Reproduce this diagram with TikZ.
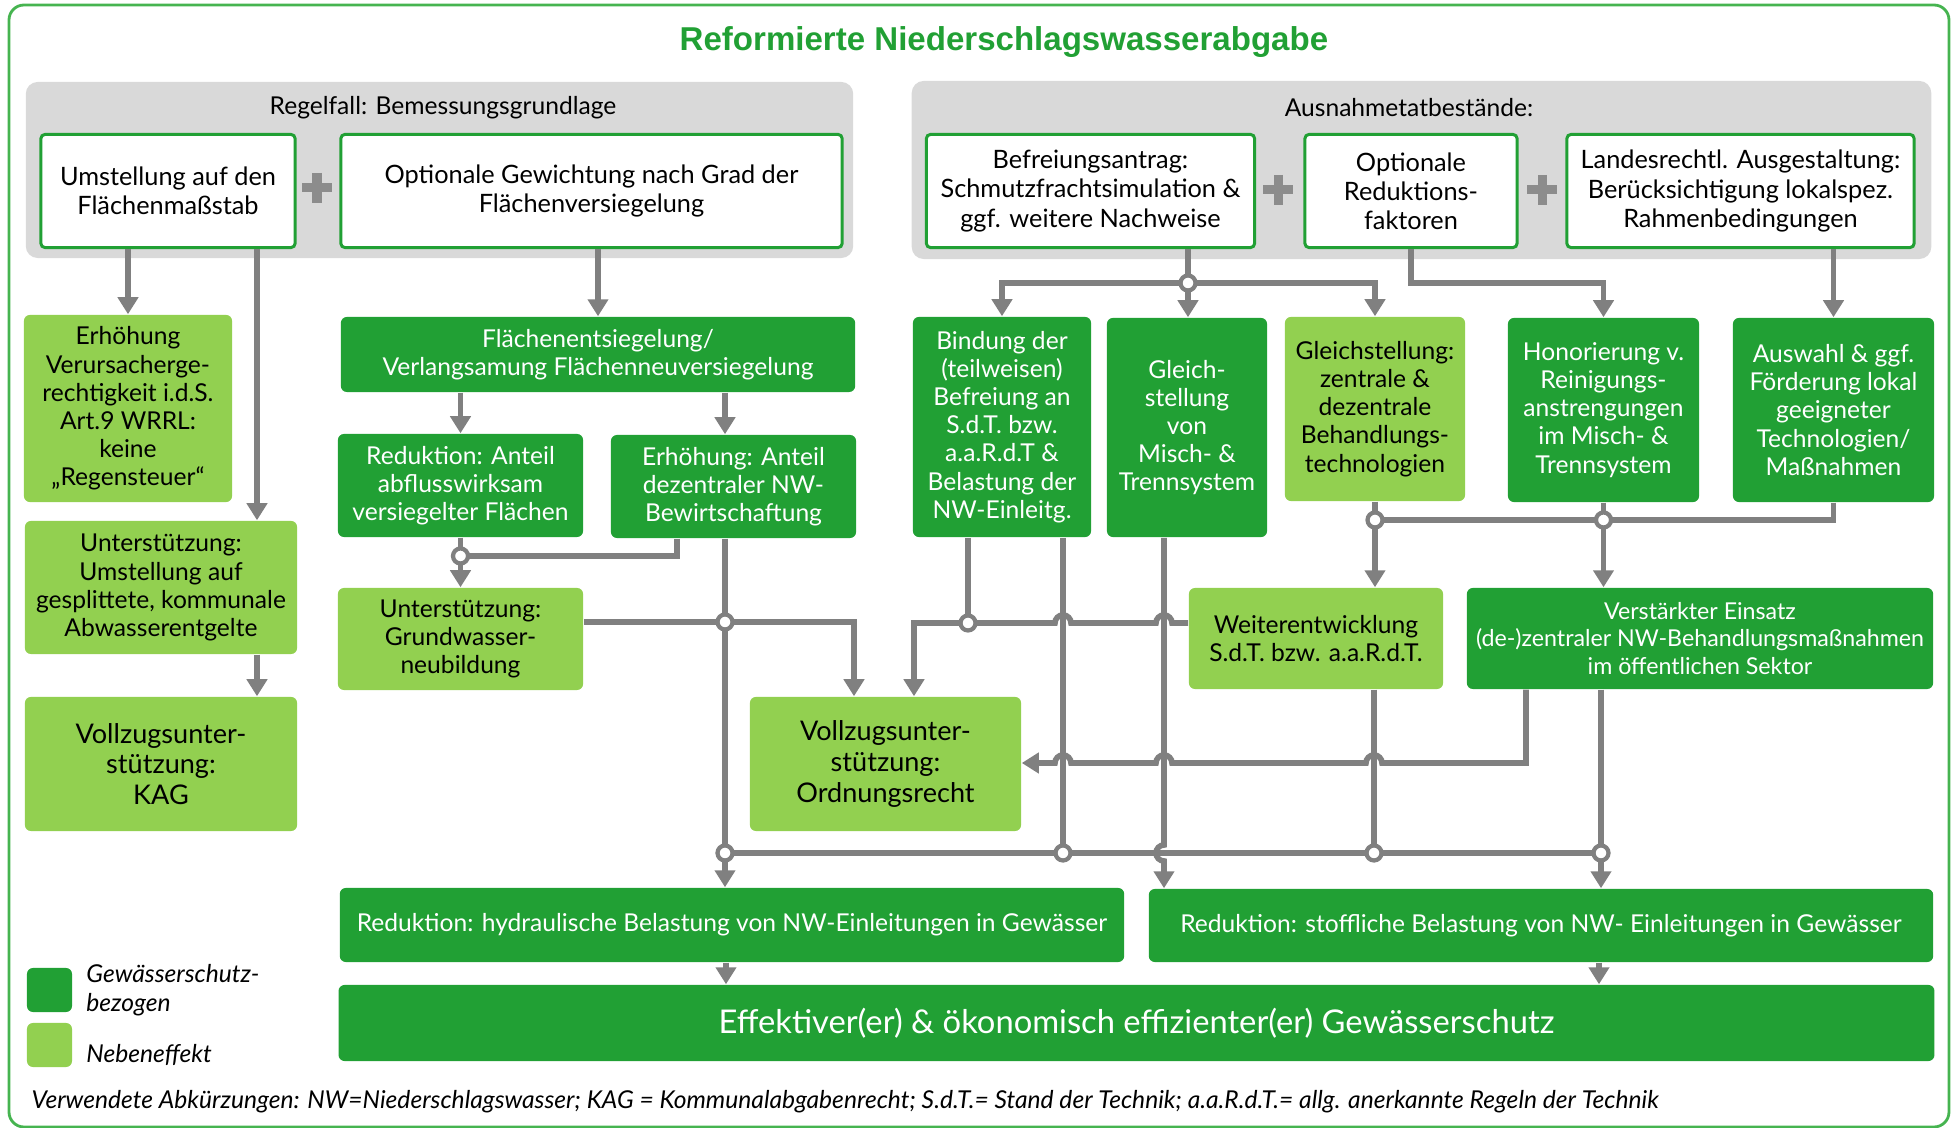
\documentclass[tikz,border=0pt]{standalone}
\usepackage{fontspec}
\setmainfont{Lato}
\newfontfamily\titlefont{Liberation Sans}
\usetikzlibrary{positioning,arrows.meta}

\definecolor{nwgreen}{RGB}{33,160,52}
\definecolor{nwlight}{RGB}{146,208,80}
\definecolor{panelgray}{RGB}{217,217,217}
\definecolor{linegray}{RGB}{128,128,128}
\definecolor{plusgray}{RGB}{140,140,140}
\definecolor{framegreen}{RGB}{70,180,80}

\begin{document}
\begin{tikzpicture}[x=0.01cm, y=-0.01cm]
   \tikzset{sz/.style 2 args = {minimum width=#1, minimum height=#2}, }
   \tikzset{panel/.style = {fill=panelgray, rounded corners=0.12cm, inner sep=0pt}, }
   \tikzset{inbox/.style = {draw=nwgreen, line width=0.03cm, fill=white, rounded corners=0.04cm, align=center, inner sep=0pt, font=\fontsize{7.2}{8.3}\selectfont}, }
   \tikzset{dark/.style = {fill=nwgreen, text=white, rounded corners=0.06cm, align=center, inner sep=0pt, font=\fontsize{7}{8}\selectfont}, }
   \tikzset{light/.style = {fill=nwlight, text=black, rounded corners=0.06cm, align=center, inner sep=0pt, font=\fontsize{7}{8}\selectfont}, }
   \tikzset{big/.style = {font=\fontsize{7.7}{8.7}\selectfont}, }
   \tikzset{line/.style = {draw=linegray, line width=1.6pt}, }
   \tikzset{arrow/.style = {line, -{Triangle[length=0.17cm, width=0.2cm]}}, }
   \tikzset{jdot/.style = {circle, draw=linegray, fill=white, line width=1.2pt, minimum size=0.15cm, inner sep=0pt}, }
   \tikzset{plus/.style = {draw=plusgray, line width=0.09cm}, }
   \tikzset{legtext/.style = {inner sep=0pt, align=left, font=\fontsize{7}{8.2}\selectfont\itshape}, }

   \useasboundingbox (0,0) rectangle (1953,1128);
   \draw[framegreen, line width=0.8pt, rounded corners=0.15cm] (9,5) rectangle (1949,1127);
   \node[text=nwgreen, font=\titlefont\bfseries\fontsize{9.4}{11}\selectfont] (title) at (1004,42) {Reformierte Niederschlagswasserabgabe};

   % Bemessungsgrundlage und Ausnahmen
   \node[panel, sz={8.27cm}{1.76cm}] (regel) at (439.5,170) {};
   \node[panel, sz={10.19cm}{1.78cm}] (ausnahme) at (1421.5,170) {};
   \node[inner sep=0pt, font=\fontsize{7}{8}\selectfont] (regeltxt) at (443,108) {Regelfall: Bemessungsgrundlage};
   \node[inner sep=0pt, font=\fontsize{7}{8}\selectfont] (ausntxt) at (1409,108) {Ausnahmetatbestände:};
   \node[inbox, sz={2.54cm}{1.13cm}] (b1) at (168,191) {Umstellung auf den\\Flächenmaßstab};
   \node[inbox, sz={5.01cm}{1.13cm}] (b2) at (591.5,191) {Optionale Gewichtung nach Grad der\\Flächenversiegelung};
   \node[inbox, sz={3.28cm}{1.13cm}] (b3) at (1090.5,191) {Befreiungsantrag:\\Schmutzfrachtsimulation \&\\ggf. weitere Nachweise};
   \node[inbox, sz={2.12cm}{1.13cm}] (b4) at (1411,191) {Optionale\\Reduktions-\\faktoren};
   \node[inbox, sz={3.47cm}{1.13cm}] (b5) at (1740.5,191) {Landesrechtl. Ausgestaltung:\\Berücksichtigung lokalspez.\\Rahmenbedingungen};
   \foreach \px/\py in {317/188, 1278/190, 1542/190}
     \draw[plus] (\px-15,\py) -- (\px+15,\py) (\px,\py-15) -- (\px,\py+15);

   % linke Seite
   \node[light, sz={2.08cm}{1.87cm}] (c1) at (128,408.5) {Erhöhung\\Verursacherge-\\rechtigkeit i.d.S.\\Art.9 WRRL:\\keine\\„Regensteuer“};
   \node[dark, sz={5.14cm}{0.75cm}] (c2) at (598,354.5) {Flächenentsiegelung/\\Verlangsamung Flächenneuversiegelung};
   \node[dark, sz={2.45cm}{1.03cm}] (c3) at (460.5,485.5) {Reduktion: Anteil\\abflusswirksam\\versiegelter Flächen};
   \node[dark, sz={2.45cm}{1.03cm}] (c4) at (733.5,486.5) {Erhöhung: Anteil\\dezentraler NW-\\Bewirtschaftung};
   \node[light, sz={2.72cm}{1.33cm}] (c5) at (161,587.5) {Unterstützung:\\Umstellung auf\\gesplittete, kommunale\\Abwasserentgelte};
   \node[light, big, sz={2.72cm}{1.34cm}] (c6) at (161,764) {Vollzugsunter-\\stützung:\\KAG};
   \node[light, sz={2.45cm}{1.02cm}] (c7) at (460.5,639) {Unterstützung:\\Grundwasser-\\neubildung};
   \node[light, big, sz={2.71cm}{1.34cm}] (e1) at (885.5,764) {Vollzugsunter-\\stützung:\\Ordnungsrecht};

   % rechte Seite
   \node[dark, sz={1.78cm}{2.2cm}] (d1) at (1002,427) {Bindung der\\(teilweisen)\\Befreiung an\\S.d.T. bzw.\\a.a.R.d.T \&\\Belastung der\\NW-Einleitg.};
   \node[dark, sz={1.6cm}{2.19cm}] (d2) at (1187,427.5) {Gleich-\\stellung\\von\\Misch- \&\\Trennsystem};
   \node[light, sz={1.8cm}{1.84cm}] (d3) at (1375,409) {Gleichstellung:\\zentrale \&\\dezentrale\\Behandlungs-\\technologien};
   \node[dark, sz={1.91cm}{1.84cm}] (d4) at (1603.5,410) {Honorierung v.\\Reinigungs-\\anstrengungen\\im Misch- \&\\Trennsystem};
   \node[dark, sz={2.01cm}{1.84cm}] (d5) at (1833.5,410) {Auswahl \& ggf.\\Förderung lokal\\geeigneter\\Technologien/\\Maßnahmen};
   \node[light, sz={2.54cm}{1.01cm}] (d6) at (1316,638.5) {Weiterentwicklung\\S.d.T. bzw. a.a.R.d.T.};
   \node[dark, sz={4.66cm}{1.01cm}, font=\fontsize{6.6}{7.9}\selectfont] (d7) at (1700,638.5) {Verstärkter Einsatz\\(de-)zentraler NW-Behandlungsmaßnahmen\\im öffentlichen Sektor};

   % Wirkungen
   \node[dark, sz={7.84cm}{0.74cm}, font=\fontsize{7}{8}\selectfont] (f1) at (732,925) {Reduktion: hydraulische Belastung von NW-Einleitungen in Gewässer};
   \node[dark, sz={7.84cm}{0.73cm}, font=\fontsize{7}{8}\selectfont] (f2) at (1541,925.5) {Reduktion: stoffliche Belastung von NW- Einleitungen in Gewässer};
   \node[dark, sz={15.95cm}{0.76cm}, font=\fontsize{9.3}{10.5}\selectfont] (g) at (1136.5,1023) {Effektiver(er) \& ökonomisch effizienter(er) Gewässerschutz};

   % Legende
   \node[dark, sz={0.45cm}{0.44cm}] (legdark) at (49.5,990) {};
   \node[light, sz={0.45cm}{0.44cm}] (leglight) at (49.5,1045) {};
   \node[legtext, right=0.13cm of legdark] (legdarktxt) {Gewässerschutz-\\bezogen};
   \node[legtext, right=0.13cm of leglight, yshift=-0.1cm] (leglighttxt) {Nebeneffekt};
   \node[anchor=west, inner sep=0pt, font=\fontsize{7}{8}\selectfont\itshape] (abk) at (31,1102) {Verwendete Abkürzungen: NW=Niederschlagswasser; KAG = Kommunalabgabenrecht; S.d.T.= Stand der Technik; a.a.R.d.T.= allg. anerkannte Regeln der Technik};

   \coordinate (ja) at (460.5,556);
   \coordinate (jc) at (725,622);
   \coordinate (jd) at (725,853);
   \coordinate (je) at (968,623);
   \coordinate (jf) at (1063,853);
   \coordinate (jg) at (1601,853);
   \coordinate (jh) at (1374,853);
   \coordinate (ji) at (1188,283);
   \coordinate (jj) at (1375,520);
   \coordinate (jk) at (1603.5,520);

   % Regelfall
   \draw[arrow] (128,0 |- b1.south) -- (c1.north);
   \draw[arrow] (257,0 |- b1.south) -- (257,0 |- c5.north);
   \draw[arrow] (257,0 |- c5.south) -- (257,0 |- c6.north);
   \draw[arrow] (b2.south -| c2.north) -- (c2.north);
   \draw[arrow] (c2.south -| c3.north) -- (c3.north);
   \draw[arrow] (725,0 |- c2.south) -- (725,0 |- c4.north);
   \draw[arrow] (c3.south) -- (c7.north);
   \draw[line] (677,0 |- c4.south) |- (ja);
   \draw[line] (jc |- c4.south) -- (jd);
   \draw[arrow] (jd) -- (jd |- f1.north);
   \draw[arrow] (c7.east |- jc) -- (854,622) -- (854,0 |- e1.north);

   % Ausnahmen
   \draw[line] (ji |- b3.south) -- (ji);
   \draw[arrow] (ji) -| (d1.north);
   \draw[arrow] (ji) -- (ji |- d2.north);
   \draw[arrow] (ji) -| (d3.north);
   \draw[arrow] (b4.south) -- (b4.south |- ji) -| (d4.north);
   \draw[arrow] (b5.south -| d5.north) -- (d5.north);
   \draw[line] (d3.south) -- (jj);
   \draw[arrow] (jj) -- (jj |- d6.north);
   \draw[line] (d4.south) -- (jk);
   \draw[arrow] (jk) -- (jk |- d7.north);
   \draw[line] (d5.south) |- (jj);

   % zum Ordnungsrecht
   \draw[line] (je |- d1.south) -- (je);
   \draw[arrow] (d6.west |- je) -- (1172,623) arc[start angle=0, end angle=180, radius=0.08cm]
     -- (1071,623) arc[start angle=0, end angle=180, radius=0.08cm] -- (914,623) -- (914,0 |- e1.north);
   \draw[arrow] (1526,0 |- d7.south) -- (1526,763) -- (1382,763) arc[start angle=0, end angle=180, radius=0.08cm]
     -- (1172,763) arc[start angle=0, end angle=180, radius=0.08cm]
     -- (1071,763) arc[start angle=0, end angle=180, radius=0.08cm] -- (e1.east |- 0,763);

   % zu den Gewaessern
   \draw[line] (jf |- d1.south) -- (jf);
   \draw[arrow] (1164,0 |- d2.south) -- (1164,845) arc[start angle=90, end angle=270, radius=0.08cm] -- (1164,0 |- f2.north);
   \draw[line] (jd) -- (jg);
   \draw[line] (jh |- d6.south) -- (jh);
   \draw[line] (jg |- d7.south) -- (jg);
   \draw[arrow] (jg) -- (jg |- f2.north);
   \draw[arrow] (f1.south -| 726,0) -- (g.north -| 726,0);
   \draw[arrow] (f2.south -| 1599,0) -- (g.north -| 1599,0);

   \foreach \j in {ja,jc,jd,je,jf,jg,jh,ji,jj,jk}
     \node[jdot] (\j-o) at (\j) {};
\end{tikzpicture}
\end{document}
